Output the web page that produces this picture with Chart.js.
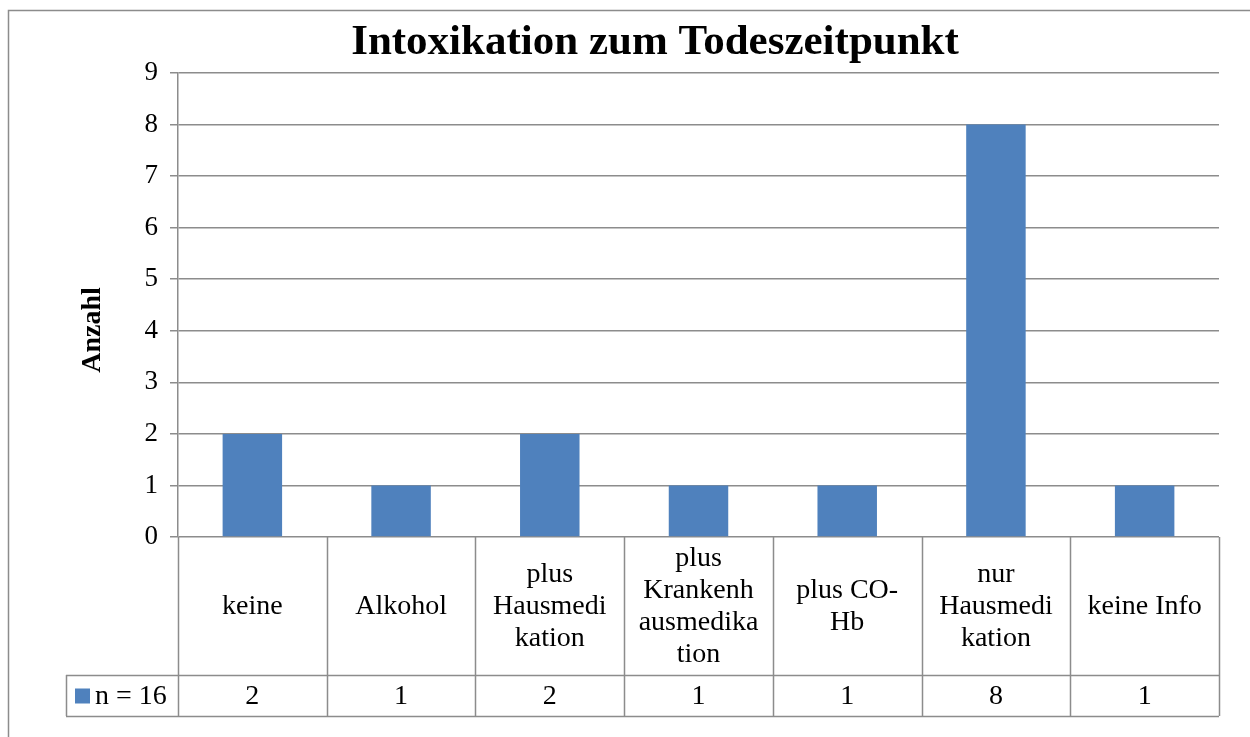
<!DOCTYPE html>
<html>
<head>
<meta charset="utf-8">
<script src="https://cdn.jsdelivr.net/npm/chart.js"></script>
<style>
  html, body { margin: 0; padding: 0; background: #fff; }
  #wrap { width: 1250px; height: 737px; }
</style>
</head>
<body>
<div id="wrap"><canvas id="chart" width="1250" height="737"></canvas></div>
<script>
const chartTitle = "Intoxikation zum Todeszeitpunkt";
const yAxisTitle = "Anzahl";
const seriesName = "n = 16";

// category labels, wrapped the way the data table shows them
const categories = [
  ["keine"],
  ["Alkohol"],
  ["plus", "Hausmedi", "kation"],
  ["plus", "Krankenh", "ausmedika", "tion"],
  ["plus CO-", "Hb"],
  ["nur", "Hausmedi", "kation"],
  ["keine Info"],
];
const counts = [2, 1, 2, 1, 1, 8, 1];
const yMin = 0;
const yMax = 9;
const yStep = 1;

const FONT = "'Liberation Serif', 'Times New Roman', serif";
const GRID = "#8c8c8c";
const BAR = "#4f81bd";

// frame, title, rotated axis title and the data table underneath
const tablePlugin = {
  id: "dataTable",
  beforeDraw(chart) {
    const ctx = chart.ctx;
    ctx.save();
    ctx.fillStyle = "#fff";
    ctx.fillRect(0, 0, chart.width, chart.height);
    ctx.strokeStyle = GRID;
    ctx.lineWidth = 1.5;
    ctx.strokeRect(8.5, 10.5, chart.width + 50, chart.height + 50);
    ctx.restore();
  },
  afterDraw(chart) {
    const ctx = chart.ctx;
    const x = chart.scales.x;
    const area = chart.chartArea;
    const n = categories.length;
    const cellW = (area.right - area.left) / n;
    const labelBottom = area.bottom + 138;
    const rowBottom = labelBottom + 41;
    const legendLeft = 66;

    ctx.save();
    // title
    ctx.fillStyle = "#000";
    ctx.font = "bold 43px " + FONT;
    ctx.textAlign = "center";
    ctx.textBaseline = "alphabetic";
    ctx.fillText(chartTitle, 655, 54);

    // y axis title
    ctx.save();
    ctx.translate(93, 330);
    ctx.rotate(-Math.PI / 2);
    ctx.font = "bold 28px " + FONT;
    ctx.textBaseline = "middle";
    ctx.fillText(yAxisTitle, 0, 0);
    ctx.restore();

    // table lines
    ctx.strokeStyle = GRID;
    ctx.lineWidth = 1.5;
    ctx.beginPath();
    for (let i = 0; i <= n; i++) {
      const px = Math.round(area.left + i * cellW) + 0.5;
      ctx.moveTo(px, area.bottom);
      ctx.lineTo(px, rowBottom);
    }
    ctx.moveTo(legendLeft, labelBottom + 0.5);
    ctx.lineTo(area.right, labelBottom + 0.5);
    ctx.moveTo(legendLeft, rowBottom + 0.5);
    ctx.lineTo(area.right, rowBottom + 0.5);
    ctx.moveTo(legendLeft + 0.5, labelBottom);
    ctx.lineTo(legendLeft + 0.5, rowBottom);
    ctx.stroke();

    // category labels and values
    ctx.fillStyle = "#000";
    ctx.textAlign = "center";
    ctx.textBaseline = "middle";
    const lineH = 32;
    const midLabel = (area.bottom + labelBottom) / 2 + 1;
    categories.forEach((lines, i) => {
      const cx = x.getPixelForValue(i);
      ctx.font = "28px " + FONT;
      const y0 = midLabel - ((lines.length - 1) * lineH) / 2;
      lines.forEach((t, j) => ctx.fillText(t, cx, y0 + j * lineH));
      ctx.fillText(String(counts[i]), cx, (labelBottom + rowBottom) / 2 + 1);
    });

    // legend key
    const midRow = (labelBottom + rowBottom) / 2;
    ctx.fillStyle = BAR;
    ctx.fillRect(75, midRow - 7, 15, 15);
    ctx.fillStyle = "#000";
    ctx.textAlign = "left";
    ctx.font = "28px " + FONT;
    ctx.fillText(seriesName, 95, midRow + 1);
    ctx.restore();
  },
};

new Chart(document.getElementById("chart"), {
  type: "bar",
  data: {
    labels: categories,
    datasets: [{
      label: seriesName,
      data: counts,
      backgroundColor: BAR,
      borderWidth: 0,
      barPercentage: 0.4,
      categoryPercentage: 1,
    }],
  },
  options: {
    responsive: false,
    animation: false,
    layout: { padding: { top: 73, right: 31, bottom: 200, left: 0 } },
    plugins: {
      legend: { display: false },
      title: { display: false },
      tooltip: { enabled: false },
    },
    scales: {
      x: { display: false },
      y: {
        min: yMin,
        max: yMax,
        afterFit(scale) { scale.width = 178; },
        ticks: {
          stepSize: yStep,
          padding: 12,
          color: "#000",
          font: { family: FONT, size: 27 },
        },
        grid: { color: GRID, lineWidth: 1.5, tickLength: 8 },
        border: { color: GRID, width: 1.5 },
      },
    },
  },
  plugins: [tablePlugin],
});
</script>
</body>
</html>
